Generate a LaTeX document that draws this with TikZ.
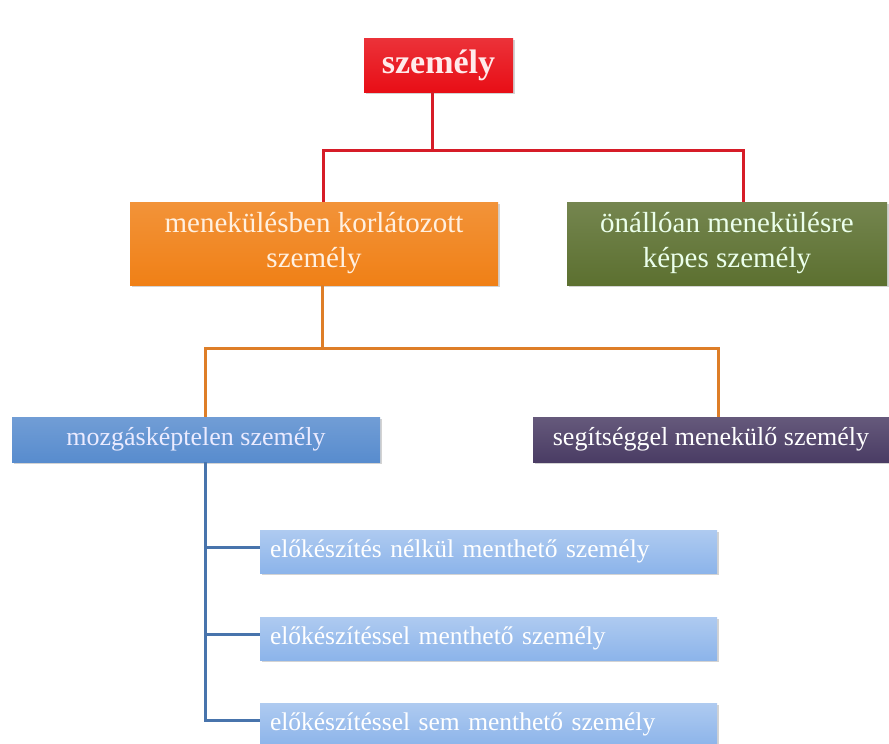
\documentclass[tikz,border=0pt]{standalone}
\usepackage{fontspec}
\setmainfont{Liberation Serif}
\usetikzlibrary{shadows}

\definecolor{rootred}{RGB}{232,14,22}
\definecolor{redline}{RGB}{214,28,40}
\definecolor{korange}{RGB}{240,128,22}
\definecolor{orangeline}{RGB}{222,126,40}
\definecolor{kgreen}{RGB}{92,112,48}
\definecolor{kblue}{RGB}{88,140,206}
\definecolor{blueline}{RGB}{72,116,172}
\definecolor{kpurple}{RGB}{74,60,100}
\definecolor{klight}{RGB}{140,180,234}

\begin{document}
\begin{tikzpicture}[
    x = 1pt, y = -1pt,
    box/.style = {inner sep = 0pt, align = center,
        drop shadow = {opacity = 0.35, shadow xshift = 2pt, shadow yshift = -2pt}},
    big/.style = {font = \fontsize{29}{35}\selectfont},
    mid/.style = {font = \fontsize{26}{31}\selectfont},
    small/.style = {font = \fontsize{25.5}{30}\selectfont},
    link/.style = {line width = 3pt}]

\useasboundingbox (0,0) rectangle (889,744);

% root
\node[box, top color = rootred!85!white, bottom color = rootred, text = white!92!red,
      minimum width = 149pt, minimum height = 54pt,
      font = \fontsize{34}{40}\selectfont\bfseries] (root) at (438.5,65) {személy};

% second level
\node[box, big, top color = korange!85!white, bottom color = korange, text = orange!12!white,
      minimum width = 368pt, minimum height = 83pt] (limited) at (314,243.5)
      {menekülésben korlátozott\\személy};
\node[box, big, top color = kgreen!85!white, bottom color = kgreen, text = green!8!white,
      minimum width = 320pt, minimum height = 83pt] (selfsafe) at (727,243.5)
      {önállóan menekülésre\\képes személy};

% third level
\node[box, mid, top color = kblue!85!white, bottom color = kblue, text = blue!8!white,
      minimum width = 368pt, minimum height = 45pt] (immobile) at (196,439.5)
      {mozgásképtelen személy};
\node[box, mid, top color = kpurple!85!white, bottom color = kpurple, text = white,
      minimum width = 356pt, minimum height = 45pt] (assisted) at (711,439.5)
      {segítséggel menekülő személy};

% rescue groups
\tikzset{rescue/.style = {box, small, top color = klight!70!white, bottom color = klight,
      text = white, minimum width = 457pt, minimum height = 43pt,
      text width = 437pt, align = left}}
\node[rescue] (rescueA) at (488.5,551.5) {előkészítés nélkül menthető személy};
\node[rescue] (rescueB) at (488.5,638.5) {előkészítéssel menthető személy};
\node[rescue] (rescueC) at (488.5,724.5) {előkészítéssel sem menthető személy};

% connectors
\coordinate (rbus) at (432,150);
\coordinate (obus) at (322,348);
\coordinate (btrunk) at ([xshift=9pt]immobile.south);

\draw[link, redline] (root.south -| rbus) -- (rbus);
\draw[link, redline] ([xshift=9pt]limited.north) |- (rbus) -| ([xshift=16pt]selfsafe.north);
\draw[link, orangeline] (limited.south -| obus) -- (obus);
\draw[link, orangeline] ([xshift=9pt]immobile.north) |- (obus) -| ([xshift=7pt]assisted.north);
\foreach \n in {rescueA, rescueB, rescueC}
    \draw[link, blueline] ([yshift=4pt]\n.west) -| (btrunk);
\end{tikzpicture}
\end{document}
